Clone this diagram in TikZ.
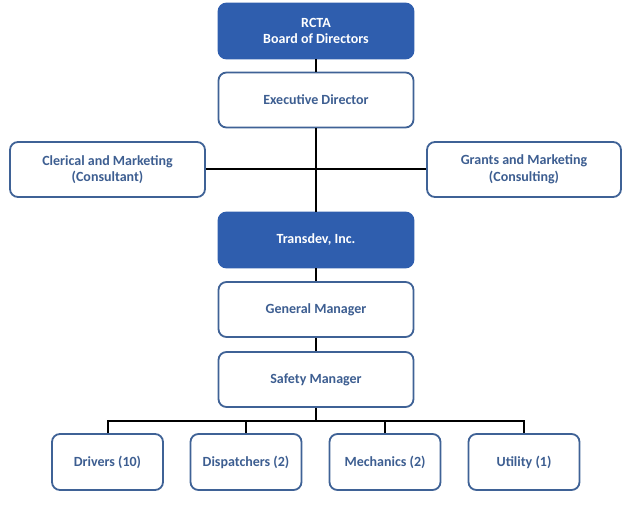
\documentclass[tikz,border=0pt]{standalone}
\usepackage{fontspec}
\setmainfont{Carlito}
\definecolor{boxblue}{HTML}{2F5EAE}
\definecolor{edgeblue}{HTML}{3F6296}
\definecolor{txtblue}{HTML}{3D5E91}
\begin{document}
\begin{tikzpicture}[x=1pt,y=-1pt,
  base/.style={rounded corners=8pt, line width=1.8pt, minimum height=55pt, align=center, font=\fontsize{14}{16.5}\selectfont\bfseries, inner sep=0pt},
  wbox/.style={base, draw=edgeblue, fill=white, text=txtblue},
  bbox/.style={base, draw=boxblue, fill=boxblue, text=white},
  conn/.style={line width=2pt, black}]
\useasboundingbox (0,0) rectangle (624,513);
\node[bbox, minimum width=195pt] (rcta) at (316,31) {RCTA\\Board of Directors};
\node[wbox, minimum width=195pt] (exec) at (316,100) {Executive Director};
\node[wbox, minimum width=195pt] (cler) at (107.5,169.5) {Clerical and Marketing\\(Consultant)};
\node[wbox, minimum width=194pt] (grant) at (524,169.5) {Grants and Marketing\\(Consulting)};
\node[bbox, minimum width=195pt] (trans) at (316,240) {Transdev, Inc.};
\node[wbox, minimum width=195pt] (gm) at (316,309.5) {General Manager};
\node[wbox, minimum width=195pt] (sm) at (316,379.5) {Safety Manager};
\node[wbox, minimum width=111pt, minimum height=56pt] (drv) at (107.5,462) {Drivers (10)};
\node[wbox, minimum width=111pt, minimum height=56pt] (disp) at (246,462) {Dispatchers (2)};
\node[wbox, minimum width=111pt, minimum height=56pt] (mech) at (385,462) {Mechanics (2)};
\node[wbox, minimum width=111pt, minimum height=56pt] (util) at (524,462) {Utility (1)};
\coordinate (bus) at (316,421);
\draw[conn] (rcta) -- (exec);
\draw[conn] (exec) -- (trans);
\draw[conn] (cler.east) -- (grant.west);
\draw[conn] (trans) -- (gm);
\draw[conn] (gm) -- (sm);
\draw[conn] (sm.south) -- (bus);
\draw[conn] (drv.north) -- (drv.north |- bus) -- (util.north |- bus) -- (util.north);
\draw[conn] (disp.north) -- (disp.north |- bus);
\draw[conn] (mech.north) -- (mech.north |- bus);
\end{tikzpicture}
\end{document}
